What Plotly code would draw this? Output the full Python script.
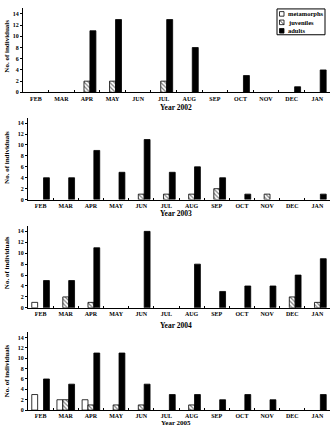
import plotly.graph_objects as go

months = ["FEB", "MAR", "APR", "MAY", "JUN", "JUL", "AUG", "SEP", "OCT", "NOV", "DEC", "JAN"]
years = ["Year 2002", "Year 2003", "Year 2004", "Year 2005"]

meta_2002 = [0, 0, 0, 0, 0, 0, 0, 0, 0, 0, 0, 0]
juv_2002 = [0, 0, 2, 2, 0, 2, 0, 0, 0, 0, 0, 0]
adu_2002 = [0, 0, 11, 13, 0, 13, 8, 0, 3, 0, 1, 4]

meta_2003 = [0, 0, 0, 0, 0, 0, 0, 0, 0, 0, 0, 0]
juv_2003 = [0, 0, 0, 0, 1, 1, 1, 2, 0, 1, 0, 0]
adu_2003 = [4, 4, 9, 5, 11, 5, 6, 4, 1, 0, 0, 1]

meta_2004 = [1, 0, 0, 0, 0, 0, 0, 0, 0, 0, 0, 0]
juv_2004 = [0, 2, 1, 0, 0, 0, 0, 0, 0, 0, 2, 1]
adu_2004 = [5, 5, 11, 0, 14, 0, 8, 3, 4, 4, 6, 9]

meta_2005 = [3, 2, 2, 0, 0, 0, 0, 0, 0, 0, 0, 0]
juv_2005 = [0, 2, 1, 1, 1, 0, 1, 0, 0, 0, 0, 0]
adu_2005 = [6, 5, 11, 11, 5, 3, 3, 2, 3, 2, 0, 3]

y_ticks = [0, 2, 4, 6, 8, 10, 12, 14]
legend_names = ["metamorphs", "juveniles", "adults"]

panels = [
    (meta_2002, juv_2002, adu_2002),
    (meta_2003, juv_2003, adu_2003),
    (meta_2004, juv_2004, adu_2004),
    (meta_2005, juv_2005, adu_2005),
]

W, H = 333, 430
FONT = "Liberation Serif"

# pixel layout of each panel: (left, right, top, bottom)
boxes = [
    (23, 330, 8.4, 93),
    (28, 330, 118.5, 201),
    (28, 330, 227.5, 310),
    (28, 330, 334.6, 413),
]
ytitle_centers = [47, 159, 265, 374]
year_label_y = [108.5, 214.5, 328, 425.5]


def nz(vals):
    # zero-height bars are not drawn in the original
    return [v if v else None for v in vals]


fig = go.Figure()

for i, (meta, juv, adu) in enumerate(panels):
    xa = "x" if i == 0 else f"x{i+1}"
    ya = "y" if i == 0 else f"y{i+1}"
    fig.add_trace(go.Bar(x=months, y=nz(meta), name=legend_names[0], xaxis=xa, yaxis=ya,
                         marker=dict(color="white", line=dict(color="black", width=0.8)),
                         showlegend=False, offsetgroup="m"))
    fig.add_trace(go.Bar(x=months, y=nz(juv), name=legend_names[1], xaxis=xa, yaxis=ya,
                         marker=dict(color="white", line=dict(color="black", width=0.8),
                                     pattern=dict(shape="\\", fgcolor="black", bgcolor="white",
                                                  size=3, solidity=0.4)),
                         showlegend=False, offsetgroup="j"))
    fig.add_trace(go.Bar(x=months, y=nz(adu), name=legend_names[2], xaxis=xa, yaxis=ya,
                         marker=dict(color="black", line=dict(color="black", width=0.8)),
                         showlegend=False, offsetgroup="a"))

layout_axes = {}
for i, (l, r, t, b) in enumerate(boxes):
    xkey = "xaxis" if i == 0 else f"xaxis{i+1}"
    ykey = "yaxis" if i == 0 else f"yaxis{i+1}"
    yanchor = "y" if i == 0 else f"y{i+1}"
    xanchor = "x" if i == 0 else f"x{i+1}"
    layout_axes[xkey] = dict(
        domain=[l / W, r / W], anchor=yanchor, type="category",
        categoryorder="array", categoryarray=months,
        showline=True, linecolor="black", linewidth=1,
        ticks="inside", ticklen=2, tickcolor="black", tickson="boundaries",
        showgrid=False, zeroline=False,
        tickfont=dict(family=FONT, size=6, color="black", weight="bold"),
    )
    layout_axes[ykey] = dict(
        domain=[1 - b / H, 1 - t / H], anchor=xanchor,
        range=[0, 15], tickvals=y_ticks,
        showline=True, linecolor="black", linewidth=1,
        ticks="outside", ticklen=2, tickcolor="black",
        showgrid=False, zeroline=False,
        tickfont=dict(family=FONT, size=6, color="black", weight="bold"),
    )

annotations = []
for i in range(4):
    annotations.append(dict(
        text="No. of individuals", x=7 / W, y=1 - ytitle_centers[i] / H,
        xref="paper", yref="paper", textangle=-90, showarrow=False,
        font=dict(family=FONT, size=7, color="black", weight="bold"),
        xanchor="center", yanchor="middle"))
    annotations.append(dict(
        text=years[i], x=176 / W, y=1 - year_label_y[i] / H,
        xref="paper", yref="paper", showarrow=False,
        font=dict(family=FONT, size=7.5 if i < 3 else 7, color="black", weight="bold"),
        xanchor="center", yanchor="middle"))

# legend (drawn manually to match the compact boxed legend)
shapes = [dict(type="rect", xref="paper", yref="paper",
               x0=277 / W, x1=325 / W, y0=1 - 35 / H, y1=1 - 9 / H,
               line=dict(color="black", width=1), fillcolor="white", layer="above")]
legend_rows = [14, 22.5, 31]
legend_fill = ["white", "white", "black"]
for k, name in enumerate(legend_names):
    yc = legend_rows[k]
    shapes.append(dict(type="rect", xref="paper", yref="paper",
                       x0=279.5 / W, x1=284 / W, y0=1 - (yc + 2.3) / H, y1=1 - (yc - 2.3) / H,
                       line=dict(color="black", width=0.8), fillcolor=legend_fill[k], layer="above"))
    if k == 1:
        shapes.append(dict(type="line", xref="paper", yref="paper",
                           x0=279.5 / W, x1=284 / W, y0=1 - (yc - 2.3) / H, y1=1 - (yc + 2.3) / H,
                           line=dict(color="black", width=0.7), layer="above"))
    annotations.append(dict(
        text=name, x=285.5 / W, y=1 - yc / H, xref="paper", yref="paper",
        showarrow=False, xanchor="left", yanchor="middle",
        font=dict(family=FONT, size=6.5, color="black", weight="bold")))

fig.update_layout(
    width=W, height=H,
    margin=dict(l=0, r=0, t=0, b=0),
    paper_bgcolor="white", plot_bgcolor="white",
    barmode="group", bargap=0.3, bargroupgap=0,
    showlegend=False,
    annotations=annotations, shapes=shapes,
    **layout_axes,
)

fig.write_html("out.html")
